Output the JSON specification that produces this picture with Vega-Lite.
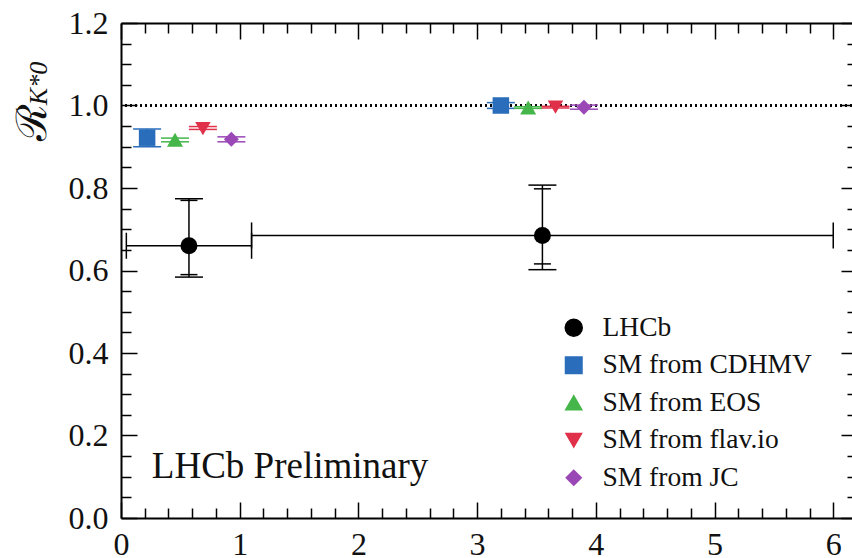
{
  "$schema": "https://vega.github.io/schema/vega-lite/v6.json",
  "width": 731,
  "height": 495,
  "autosize": {"type": "none"},
  "padding": {"left": 121, "top": 23, "right": 0, "bottom": 40},
  "background": "white",
  "config": {
    "view": {"stroke": null},
    "font": "'Liberation Serif', 'DejaVu Serif', serif",
    "axis": {
      "grid": false,
      "domainColor": "black",
      "domainWidth": 2,
      "tickColor": "black",
      "tickWidth": 1.5,
      "labelFont": "'Liberation Serif', 'DejaVu Serif', serif",
      "labelFontSize": 32,
      "labelColor": "#111",
      "labelFlush": false,
      "labelOverlap": false
    },
    "legend": {
      "labelFont": "'Liberation Serif', 'DejaVu Serif', serif"
    }
  },
  "datasets": {
    "rk": [
      {"source": "LHCb", "x": 0.5725, "xlo": 0.045, "xhi": 1.1, "y": 0.66, "lo": 0.584, "hi": 0.774, "slo": 0.59, "shi": 0.77},
      {"source": "LHCb", "x": 3.55, "xlo": 1.1, "xhi": 6.0, "y": 0.685, "lo": 0.602, "hi": 0.807, "slo": 0.616, "shi": 0.798},
      {"source": "SM from CDHMV", "x": 0.22, "y": 0.922, "lo": 0.9, "hi": 0.943},
      {"source": "SM from EOS", "x": 0.455, "y": 0.917, "lo": 0.912, "hi": 0.921},
      {"source": "SM from flav.io", "x": 0.69, "y": 0.944, "lo": 0.942, "hi": 0.949},
      {"source": "SM from JC", "x": 0.93, "y": 0.918, "lo": 0.912, "hi": 0.924},
      {"source": "SM from CDHMV", "x": 3.2, "y": 1.0, "lo": 0.993, "hi": 1.007},
      {"source": "SM from EOS", "x": 3.43, "y": 0.995, "lo": 0.993, "hi": 0.997},
      {"source": "SM from flav.io", "x": 3.66, "y": 0.996, "lo": 0.994, "hi": 0.998},
      {"source": "SM from JC", "x": 3.9, "y": 0.996, "lo": 0.991, "hi": 1.001}
    ]
  },
  "data": {"name": "rk"},
  "resolve": {"axis": {"x": "independent", "y": "independent"}},
  "layer": [
    {
      "mark": {"type": "rule", "strokeDash": [2, 3], "strokeWidth": 1.3, "color": "black"},
      "encoding": {
        "y": {"datum": 1, "scale": {"domain": [0, 1.2], "nice": false, "zero": false}, "axis": null}
      }
    },
    {
      "transform": [{"filter": "isValid(datum.xlo)"}],
      "mark": {"type": "rule", "strokeWidth": 1.5, "color": "black"},
      "encoding": {
        "x": {
          "field": "xlo", "type": "quantitative",
          "scale": {"domain": [0, 6.158], "nice": false, "zero": false},
          "axis": {
            "orient": "top",
            "values": [0,0.2,0.4,0.6,0.8,1,1.2,1.4,1.6,1.8,2,2.2,2.4,2.6,2.8,3,3.2,3.4,3.6,3.8,4,4.2,4.4,4.6,4.8,5,5.2,5.4,5.6,5.8,6],
            "tickSize": {"condition": {"test": "abs(datum.value - round(datum.value)) < 0.001", "value": -16}, "value": -10},
            "labels": false,
            "title": "K*0",
            "titleFont": "'Liberation Serif', 'DejaVu Serif', serif",
            "titleFontStyle": "italic",
            "titleFontWeight": "normal",
            "titleFontSize": 26,
            "titleAngle": -90,
            "titleAlign": "center",
            "titleBaseline": "alphabetic",
            "titleX": -75,
            "titleY": 60,
            "titleColor": "#111"
          }
        },
        "x2": {"field": "xhi"},
        "y": {
          "field": "y", "type": "quantitative",
          "axis": {
            "orient": "right",
            "offset": 5,
            "values": [0,0.05,0.1,0.15,0.2,0.25,0.3,0.35,0.4,0.45,0.5,0.55,0.6,0.65,0.7,0.75,0.8,0.85,0.9,0.95,1,1.05,1.1,1.15,1.2],
            "tickSize": {"condition": {"test": "abs(datum.value * 5 - round(datum.value * 5)) < 0.001", "value": -16}, "value": -10},
            "labels": false,
            "title": null
          }
        }
      }
    },
    {
      "transform": [{"filter": "isValid(datum.xlo)"}],
      "mark": {"type": "tick", "orient": "vertical", "size": 26, "thickness": 1.5, "color": "black", "opacity": 1},
      "encoding": {
        "x": {"field": "xlo", "type": "quantitative", "axis": null},
        "y": {"field": "y", "type": "quantitative", "axis": null}
      }
    },
    {
      "transform": [{"filter": "isValid(datum.xhi)"}],
      "mark": {"type": "tick", "orient": "vertical", "size": 26, "thickness": 1.5, "color": "black", "opacity": 1},
      "encoding": {
        "x": {"field": "xhi", "type": "quantitative", "axis": null},
        "y": {"field": "y", "type": "quantitative", "axis": null}
      }
    },
    {
      "mark": {"type": "rule", "strokeWidth": 1.5},
      "encoding": {
        "x": {"field": "x", "type": "quantitative", "axis": null},
        "y": {"field": "lo", "type": "quantitative", "axis": null},
        "y2": {"field": "hi"},
        "color": {"field": "source", "type": "nominal", "title": null}
      }
    },
    {
      "mark": {"type": "tick", "orient": "horizontal", "size": 28, "thickness": 1.5, "opacity": 1},
      "encoding": {
        "x": {"field": "x", "type": "quantitative", "axis": null},
        "y": {"field": "lo", "type": "quantitative", "axis": null},
        "color": {"field": "source", "type": "nominal", "title": null}
      }
    },
    {
      "mark": {"type": "tick", "orient": "horizontal", "size": 28, "thickness": 1.5, "opacity": 1},
      "encoding": {
        "x": {"field": "x", "type": "quantitative", "axis": null},
        "y": {"field": "hi", "type": "quantitative", "axis": null},
        "color": {"field": "source", "type": "nominal", "title": null}
      }
    },
    {
      "transform": [{"filter": "isValid(datum.slo)"}],
      "mark": {"type": "tick", "orient": "horizontal", "size": 17, "thickness": 1.5, "color": "black", "opacity": 1},
      "encoding": {
        "x": {"field": "x", "type": "quantitative", "axis": null},
        "y": {"field": "slo", "type": "quantitative", "axis": null}
      }
    },
    {
      "transform": [{"filter": "isValid(datum.shi)"}],
      "mark": {"type": "tick", "orient": "horizontal", "size": 17, "thickness": 1.5, "color": "black", "opacity": 1},
      "encoding": {
        "x": {"field": "x", "type": "quantitative", "axis": null},
        "y": {"field": "shi", "type": "quantitative", "axis": null}
      }
    },
    {
      "mark": {"type": "point", "filled": true, "opacity": 1},
      "encoding": {
        "x": {
          "field": "x", "type": "quantitative",
          "axis": {
            "orient": "bottom",
            "values": [0,0.2,0.4,0.6,0.8,1,1.2,1.4,1.6,1.8,2,2.2,2.4,2.6,2.8,3,3.2,3.4,3.6,3.8,4,4.2,4.4,4.6,4.8,5,5.2,5.4,5.6,5.8,6],
            "tickSize": {"condition": {"test": "abs(datum.value - round(datum.value)) < 0.001", "value": -16}, "value": -10},
            "labelExpr": "abs(datum.value - round(datum.value)) < 0.001 ? format(datum.value, 'd') : ''",
            "labelPadding": 27,
            "title": null
          }
        },
        "y": {
          "field": "y", "type": "quantitative",
          "axis": {
            "orient": "left",
            "values": [0,0.05,0.1,0.15,0.2,0.25,0.3,0.35,0.4,0.45,0.5,0.55,0.6,0.65,0.7,0.75,0.8,0.85,0.9,0.95,1,1.05,1.1,1.15,1.2],
            "tickSize": {"condition": {"test": "abs(datum.value * 5 - round(datum.value * 5)) < 0.001", "value": -16}, "value": -10},
            "labelExpr": "abs(datum.value * 5 - round(datum.value * 5)) < 0.001 ? format(datum.value, '.1f') : ''",
            "labelPadding": 29,
            "title": "ℛ",
            "titleFont": "'DejaVu Serif', serif",
            "titleFontWeight": "normal",
            "titleFontSize": 42,
            "titleAngle": -90,
            "titleAlign": "center",
            "titleBaseline": "alphabetic",
            "titleX": -76,
            "titleY": 99,
            "titleColor": "#111"
          }
        },
        "color": {
          "field": "source", "type": "nominal", "title": null,
          "scale": {
            "domain": ["LHCb", "SM from CDHMV", "SM from EOS", "SM from flav.io", "SM from JC"],
            "range": ["#000000", "#2a6ebb", "#45b649", "#e0304a", "#9a48b6"]
          },
          "legend": {
            "orient": "none",
            "legendX": 439,
            "legendY": 291,
            "labelFontSize": 27.5,
            "labelColor": "#111",
            "labelLimit": 400,
            "labelOffset": 15,
            "rowPadding": 8.5,
            "symbolOpacity": 1,
            "encode": {"symbols": {"update": {"size": {"signal": "scale('size', datum.value) * 1.8"}}}}
          }
        },
        "shape": {
          "field": "source", "type": "nominal", "title": null,
          "scale": {
            "domain": ["LHCb", "SM from CDHMV", "SM from EOS", "SM from flav.io", "SM from JC"],
            "range": ["circle", "square", "triangle-up", "triangle-down", "diamond"]
          }
        },
        "size": {
          "field": "source", "type": "nominal", "title": null,
          "scale": {
            "domain": ["LHCb", "SM from CDHMV", "SM from EOS", "SM from flav.io", "SM from JC"],
            "range": [289, 225, 196, 196, 361]
          }
        }
      }
    },
    {
      "data": {"values": [{"label": "LHCb Preliminary"}]},
      "mark": {"type": "text", "align": "left", "baseline": "alphabetic", "fontSize": 37, "color": "#111"},
      "encoding": {
        "x": {"datum": 0.26, "axis": null},
        "y": {"datum": 0.097, "axis": null},
        "text": {"field": "label"}
      }
    }
  ]
}
